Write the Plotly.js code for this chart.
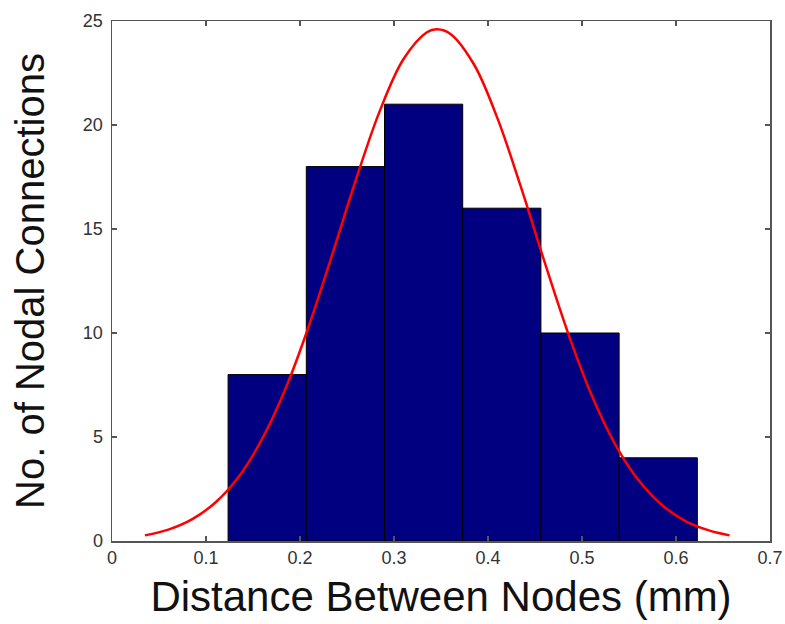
<!DOCTYPE html>
<html>
<head>
<meta charset="utf-8">
<script src="https://cdn.plot.ly/plotly-3.0.1.min.js"></script>
<style>html,body{margin:0;padding:0;background:#fff;}#chart{width:785px;height:624px;}</style>
</head>
<body>
<div id="chart"></div>
<script>
var binCenters = [0.1651, 0.2483, 0.3315, 0.4147, 0.4979, 0.5811];
var binCounts = [8, 18, 21, 16, 10, 4];
var binWidth = 0.0832;

// Fitted curve points
var curveX = [0.035, 0.06, 0.085, 0.11, 0.135, 0.16, 0.185, 0.21, 0.235, 0.26, 0.285, 0.31, 0.335, 0.346, 0.36, 0.385, 0.41, 0.435, 0.46, 0.485, 0.51, 0.535, 0.56, 0.585, 0.61, 0.635, 0.657];
var curveY = [0.27, 0.55, 1.04, 1.85, 3.10, 4.93, 7.37, 10.41, 13.87, 17.44, 20.69, 23.16, 24.46, 24.6, 24.38, 22.92, 20.33, 17.02, 13.44, 10.02, 7.04, 4.67, 2.93, 1.73, 0.96, 0.51, 0.27];

var xTicks = [0, 0.1, 0.2, 0.3, 0.4, 0.5, 0.6, 0.7];
var xTickText = ['0', '0.1', '0.2', '0.3', '0.4', '0.5', '0.6', '0.7'];
var yTicks = [0, 5, 10, 15, 20, 25];

var traces = [
  {
    type: 'bar',
    x: binCenters,
    y: binCounts,
    width: binWidth,
    marker: {color: '#000080', line: {color: '#000000', width: 1}},
    hoverinfo: 'x+y'
  },
  {
    type: 'scatter',
    mode: 'lines',
    x: curveX,
    y: curveY,
    line: {color: '#ff0000', width: 2.5, shape: 'spline'},
    hoverinfo: 'x+y'
  }
];

var axisCommon = {
  showgrid: false,
  zeroline: false,
  showline: true,
  linecolor: '#555555',
  linewidth: 1.5,
  mirror: 'ticks',
  ticks: 'inside',
  ticklen: 5,
  tickwidth: 1.5,
  tickcolor: '#555555',
  tickfont: {family: 'Liberation Sans, Arial, sans-serif', size: 18, color: '#333333'}
};

var layout = {
  width: 785,
  height: 624,
  margin: {l: 112, r: 14.5, t: 21, b: 83},
  paper_bgcolor: '#ffffff',
  plot_bgcolor: '#ffffff',
  showlegend: false,
  bargap: 0,
  xaxis: Object.assign({}, axisCommon, {
    range: [0, 0.7],
    tickvals: xTicks,
    ticktext: xTickText,
    title: {text: 'Distance Between Nodes (mm)', font: {family: 'Liberation Sans, Arial, sans-serif', size: 42, color: '#111111'}, standoff: 14}
  }),
  yaxis: Object.assign({}, axisCommon, {
    range: [0, 25],
    tickvals: yTicks,
    ticklabelstandoff: 4,
    title: {text: 'No. of Nodal Connections', font: {family: 'Liberation Sans, Arial, sans-serif', size: 40, color: '#111111'}, standoff: 26}
  })
};

Plotly.newPlot('chart', traces, layout, {displayModeBar: false, staticPlot: true});
</script>
</body>
</html>
